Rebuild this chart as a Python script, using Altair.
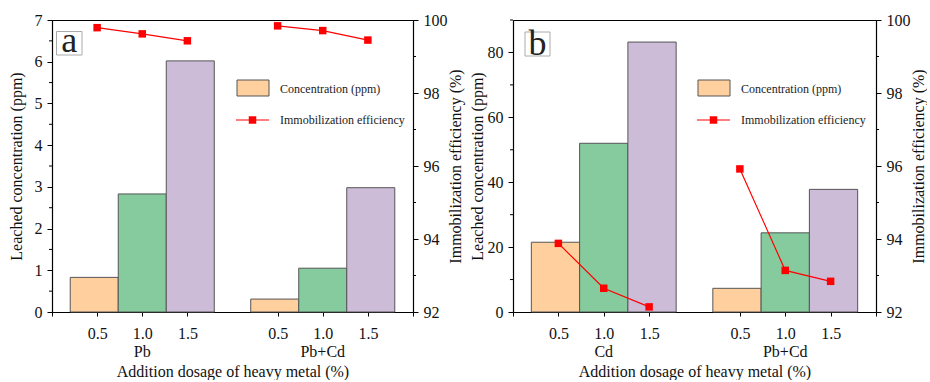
import altair as alt
import pandas as pd

# ---------------- data ----------------
doses = ["0.5", "1.0", "1.5"]

groups_a = ["Pb", "Pb+Cd"]
conc_a_pb = [0.83, 2.83, 6.02]
conc_a_pbcd = [0.31, 1.05, 2.98]
eff_a_pb = [99.79, 99.62, 99.43]
eff_a_pbcd = [99.84, 99.71, 99.45]

groups_b = ["Cd", "Pb+Cd"]
conc_b_cd = [21.5, 52.0, 83.2]
conc_b_pbcd = [7.3, 24.4, 37.8]
eff_b_cd = [93.88, 92.65, 92.14]
eff_b_pbcd = [95.92, 93.14, 92.84]

bar_colors = ["#FFD09E", "#86CB9E", "#CDBCD8"]
FONT = "Liberation Serif"

# ---------------- layout helpers ----------------
GROUP_CENTERS = [2, 6]
BW = 1.064
H = 292


def make_df(groups, concs, effs):
    rows = []
    for g, (name, conc, eff) in enumerate(zip(groups, concs, effs)):
        c = GROUP_CENTERS[g]
        for i, d in enumerate(doses):
            rows.append(dict(group=name, dose=d, conc=conc[i], eff=eff[i],
                             tick=c + (i - 1),
                             x0=c + (i - 1) * BW - BW / 2,
                             x1=c + (i - 1) * BW + BW / 2))
    return pd.DataFrame(rows)


tick_map = {}
for c in GROUP_CENTERS:
    for i, d in enumerate(doses):
        tick_map[c + (i - 1)] = d
label_expr = " : ".join([f"datum.value == {k} ? '{v}'" for k, v in tick_map.items()]) + " : ''"
x_values = [0] + sorted(tick_map.keys()) + [8]

X_TITLE = "Addition dosage of heavy metal (%)"
x_scale = alt.Scale(domain=[0, 8], nice=False, zero=False)
x_axis = alt.Axis(values=x_values, labelExpr=label_expr, title=X_TITLE,
                  labelFont=FONT, titleFont=FONT, labelFontSize=16, titleFontSize=16,
                  tickSize=4, labelPadding=9, titlePadding=22, labelFlush=False, labelOverlap=False)

dummy = pd.DataFrame({"k": [0]})


def panel(groups, concs, effs, width, ydom, ymajor, yminor, title_pad_left, letter, letter_box):
    df = make_df(groups, concs, effs)
    Y_T = "Leached concentration (ppm)"
    R_T = "Immobilization efficiency (%)"
    y_scale = alt.Scale(domain=ydom, nice=False, zero=False)
    y_axis = alt.Axis(values=ymajor, title=Y_T, tickSize=5,
                      labelFont=FONT, titleFont=FONT, labelFontSize=16, titleFontSize=16,
                      labelPadding=5, titlePadding=title_pad_left, labelOverlap=False)
    r_scale = alt.Scale(domain=[92, 100], nice=False, zero=False)
    r_axis = alt.Axis(values=[92, 94, 96, 98, 100], orient="right", title=R_T,
                      labelFont=FONT, titleFont=FONT, labelFontSize=16, titleFontSize=16,
                      tickSize=5, labelPadding=5, titlePadding=0, titleAngle=270, titleBaseline="top",
                      labelOverlap=False)

    bars = alt.Chart(df).mark_bar(stroke="#555555", strokeWidth=1).encode(
        x=alt.X("x0:Q", scale=x_scale, axis=x_axis, title=X_TITLE),
        x2="x1:Q",
        y=alt.Y("conc:Q", scale=y_scale, axis=y_axis, title=Y_T),
        y2=alt.datum(0),
        color=alt.Color("dose:N", scale=alt.Scale(domain=doses, range=bar_colors), legend=None),
    )
    minor_l = alt.Chart(pd.DataFrame({"v": yminor})).mark_rule(color="black").encode(
        y=alt.Y("v:Q", scale=y_scale, axis=y_axis, title=Y_T),
        x=alt.value(-3), x2=alt.value(0))
    gdf = pd.DataFrame({"group": groups, "c": GROUP_CENTERS})
    glabels = alt.Chart(gdf).mark_text(font=FONT, fontSize=16, baseline="middle", color="#111").encode(
        x=alt.X("c:Q", scale=x_scale, axis=x_axis, title=X_TITLE),
        y=alt.value(H + 40), text="group:N")

    # legend
    leg_box = alt.Chart(dummy).mark_rect(fill=bar_colors[0], stroke="#555555", strokeWidth=1).encode(
        x=alt.value(185), x2=alt.value(217), y=alt.value(60), y2=alt.value(76))
    leg_t1 = alt.Chart(dummy).mark_text(font=FONT, fontSize=12, align="left", baseline="middle",
                                        color="#222").encode(
        x=alt.value(228), y=alt.value(69), text=alt.value("Concentration (ppm)"))
    leg_line = alt.Chart(dummy).mark_rule(color="#FF0000", strokeWidth=1.2).encode(
        x=alt.value(184), x2=alt.value(217), y=alt.value(100))
    leg_pt = alt.Chart(dummy).mark_point(shape="square", filled=True, color="#FF0000", size=56,
                                         opacity=1).encode(x=alt.value(200.5), y=alt.value(100))
    leg_t2 = alt.Chart(dummy).mark_text(font=FONT, fontSize=12, align="left", baseline="middle",
                                        color="#222").encode(
        x=alt.value(228), y=alt.value(100), text=alt.value("Immobilization efficiency"))

    bx0, bx1, by0, by1, tx, ty = letter_box
    let_box = alt.Chart(dummy).mark_rect(fill="white", stroke="#AAAAAA", strokeWidth=1).encode(
        x=alt.value(bx0), x2=alt.value(bx1), y=alt.value(by0), y2=alt.value(by1))
    let_txt = alt.Chart(dummy).mark_text(font=FONT, fontSize=36, align="center", baseline="alphabetic",
                                         color="#222").encode(
        x=alt.value(tx), y=alt.value(ty), text=alt.value(letter))

    left_part = alt.layer(bars, minor_l, glabels, leg_box, leg_t1, leg_line, leg_pt, leg_t2,
                          let_box, let_txt)

    line = alt.Chart(df).mark_line(color="#FF0000", strokeWidth=1.2).encode(
        x=alt.X("tick:Q", scale=x_scale, axis=x_axis, title=X_TITLE),
        y=alt.Y("eff:Q", scale=r_scale, axis=r_axis, title=R_T),
        detail="group:N")
    pts = alt.Chart(df).mark_point(shape="square", filled=True, color="#FF0000", size=56, opacity=1).encode(
        x=alt.X("tick:Q", scale=x_scale, axis=x_axis, title=X_TITLE),
        y=alt.Y("eff:Q", scale=r_scale, axis=r_axis, title=R_T))
    minor_r = alt.Chart(pd.DataFrame({"v": [93, 95, 97, 99]})).mark_rule(color="black").encode(
        y=alt.Y("v:Q", scale=r_scale, axis=r_axis, title=R_T),
        x=alt.value(width), x2=alt.value(width + 3))
    right_part = alt.layer(line, pts, minor_r)

    return alt.layer(left_part, right_part).resolve_scale(y="independent").properties(width=width, height=H)


panel_a = panel(groups_a, [conc_a_pb, conc_a_pbcd], [eff_a_pb, eff_a_pbcd], 361,
                [0, 7], list(range(0, 8)), [k + 0.5 for k in range(7)], 10, "a",
                (4.5, 30, 11.5, 35, 17.2, 31.5))
panel_b = panel(groups_b, [conc_b_cd, conc_b_pbcd], [eff_b_cd, eff_b_pbcd], 363,
                [0, 90], [0, 20, 40, 60, 80], [10, 30, 50, 70, 90], 2, "b",
                (12, 37, 12, 36, 24.5, 35))

chart = alt.hconcat(panel_a, panel_b, spacing=4).properties(
    padding={"left": 7, "top": 11, "right": 0, "bottom": 0}
).configure(font=FONT, background="white").configure_view(
    stroke="black", strokeWidth=1
).configure_axis(
    grid=False, labelFont=FONT, titleFont=FONT, labelFontSize=16, titleFontSize=16,
    titleFontWeight="normal", labelColor="#111", titleColor="#111", domainColor="black",
    tickColor="black", domainWidth=1.2, tickWidth=1
).configure_text(font=FONT)

chart.save("out.html", embed_options={"renderer": "svg", "actions": False})
